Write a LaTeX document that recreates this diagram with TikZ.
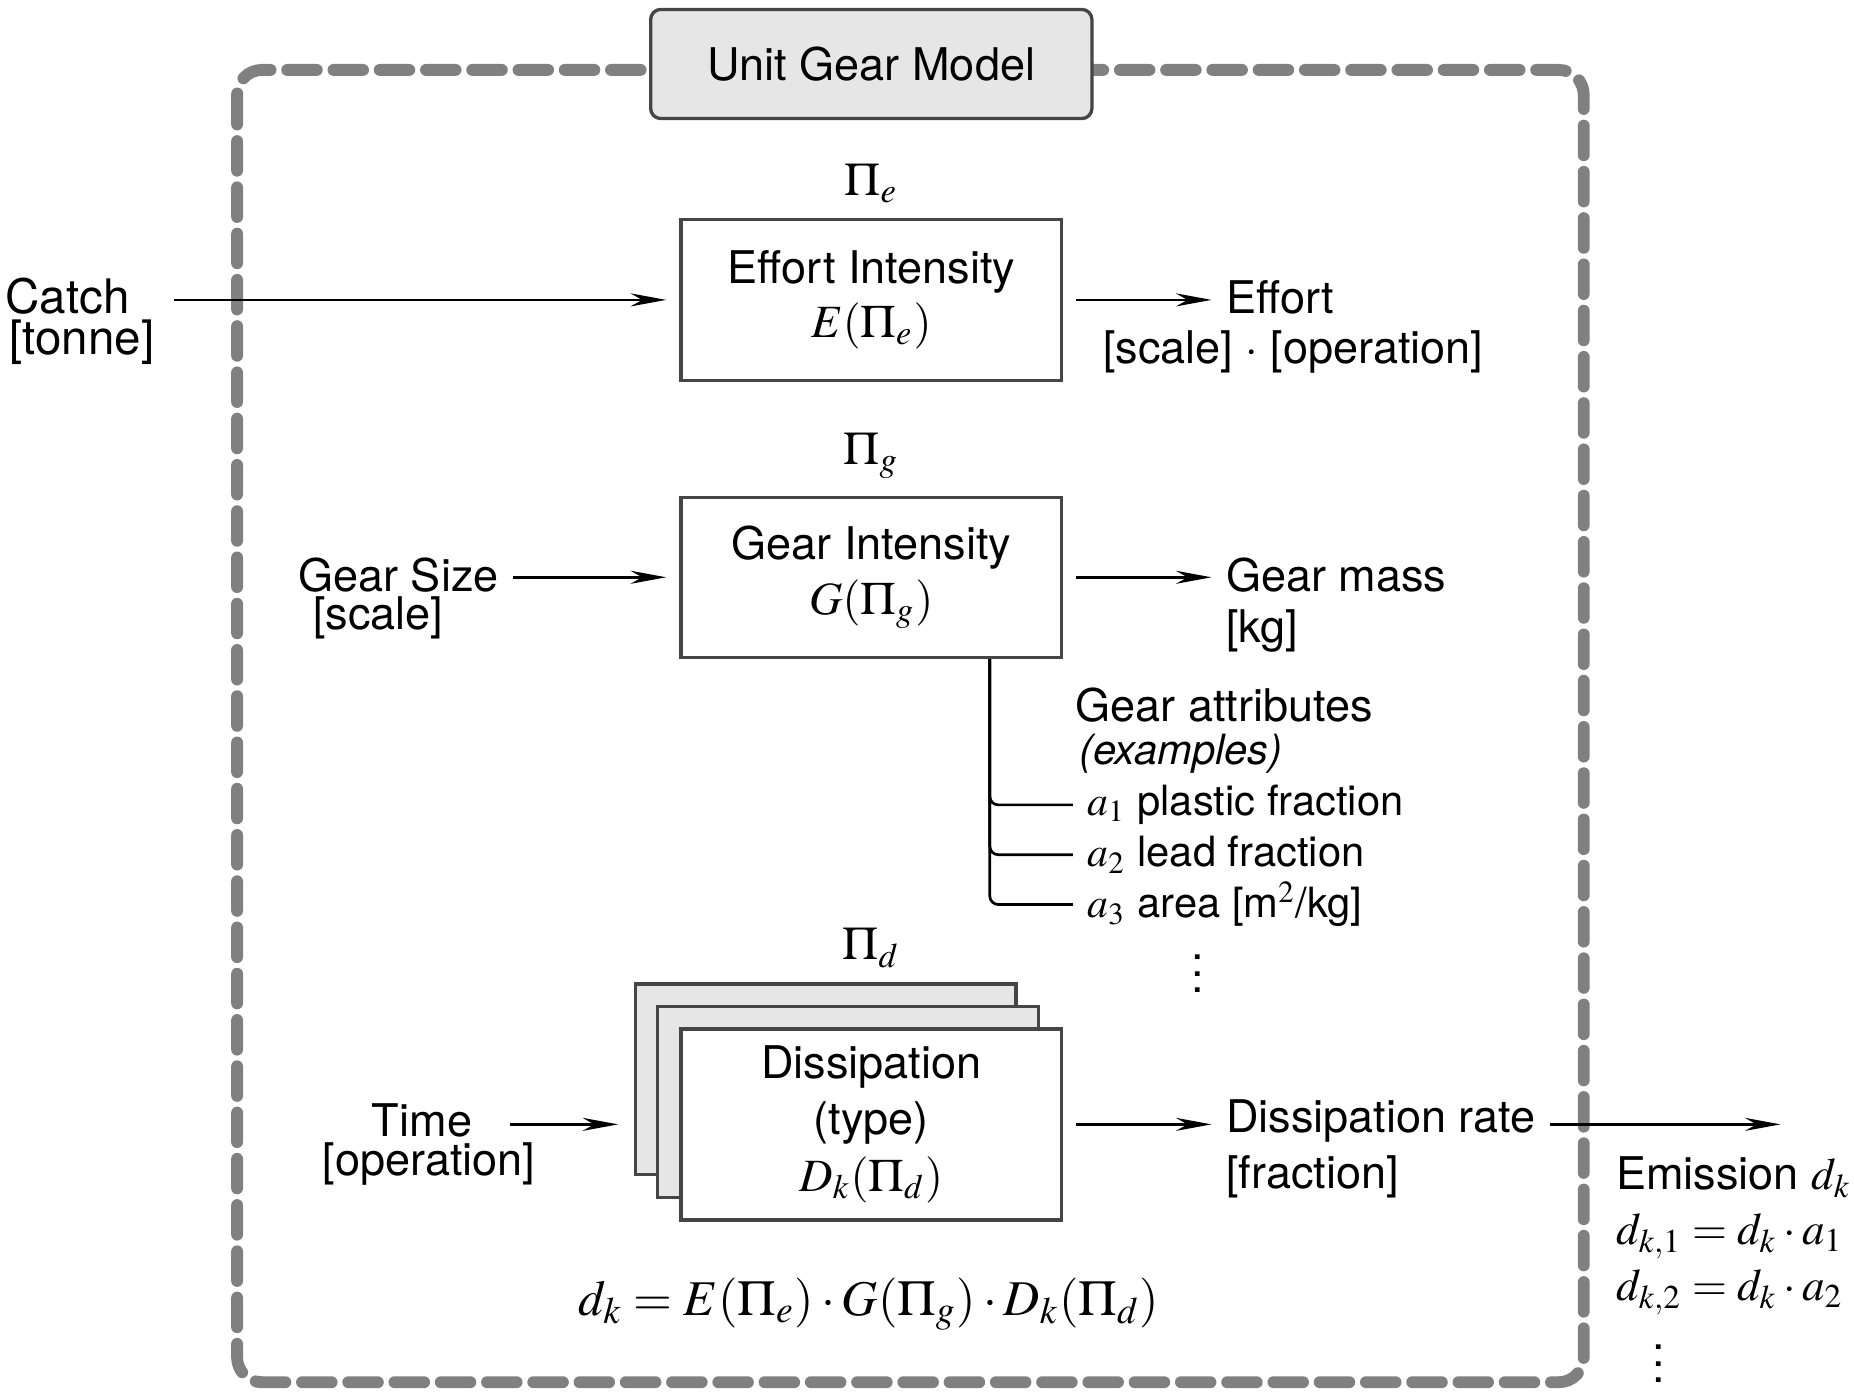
\documentclass[tikz,border=0pt]{standalone}
\usepackage{mathptmx}
\usepackage[no-math]{fontspec}
\setmainfont{TeX Gyre Heros}
\usetikzlibrary{arrows.meta,calc}
\definecolor{bordergray}{HTML}{808080}
\definecolor{boxgray}{HTML}{454545}
\definecolor{lightfill}{HTML}{E6E6E6}
\newcommand{\mymath}[1]{{\fontsize{11.1}{13.1}\selectfont$#1$}}
\newcommand{\pimath}[1]{{\fontsize{11.2}{13.1}\selectfont$#1$}}
\begin{document}
\begin{tikzpicture}[x=0.01cm,y=-0.01cm,
  font=\fontsize{10.8}{13.1}\selectfont,
  ibox/.style={draw=boxgray, line width=0.8pt, minimum width=3.21cm, align=center, inner sep=0pt, fill=white},
  titlebox/.style={draw=boxgray, fill=lightfill, line width=0.8pt, rounded corners=0.085cm, minimum width=3.72cm, minimum height=0.92cm},
  arr/.style={-{Stealth[length=0.3cm,width=0.11cm]}, line width=0.65pt},
  branch/.style={line width=0.65pt, rounded corners=0.07cm},
  lblw/.style={anchor=west},
  small/.style={font=\fontsize{10}{12}\selectfont},
  catchf/.style={font=\fontsize{11.4}{13.5}\selectfont},
  dots/.style={inner sep=0pt, outer sep=0pt}
]
\useasboundingbox (0,0) rectangle (1564,1174);

% outer dashed frame
\draw[bordergray, line width=0.1cm, dash pattern=on 0.25cm off 0.14cm, line cap=round, rounded corners=0.21cm] (200,59) rectangle (1336,1166);

% title
\node[titlebox] (title) at (735,54) {Unit Gear Model};

% Effort intensity
\node (pie) at (735,155) {\pimath{\Pi_e}};
\node[ibox, minimum height=1.36cm] (eff) at (735,253) {Effort Intensity\\ \mymath{E(\Pi_e)}};
\node[catchf] (catch) at (57,250) {Catch};
\node[catchf] (catchu) at (69,289) {[tonne]};
\coordinate (cstart) at (147,253);
\draw[arr, shorten >=0.11cm] (cstart) -- (cstart -| eff.west);
\node[lblw] (effl) at (1022,251) {Effort};
\node (effu) at (1091,297) {[scale] $\cdot$ [operation]};
\draw[arr, shorten <=0.11cm] (eff.east) -- (eff.east -| effl.west);

% Gear intensity
\node (pig) at (735,385) {\pimath{\Pi_g}};
\node[ibox, minimum height=1.35cm] (gear) at (735,487) {Gear Intensity\\ \mymath{G(\Pi_g)}};
\node[anchor=east] (gsl) at (433,485) {Gear Size};
\node (gsu) at (319,521) {[scale]};
\draw[arr, shorten >=0.11cm] (gsl.east |- gear.west) -- (gear.west);
\node[lblw] (gml) at (1022,485) {Gear mass};
\node[lblw] (gmu) at (1022,532) {[kg]};
\draw[arr, shorten <=0.11cm] (gear.east) -- (gear.east -| gml.west);

% gear attributes
\node[lblw] (ga) at (895,595) {Gear attributes};
\node[lblw, small] (gex) at (898,636) {\itshape (examples)};
\node[lblw, small] (a1) at (905,679) {$a_1$ plastic fraction};
\node[lblw, small] (a2) at (905,721) {$a_2$ lead fraction};
\node[lblw, small] (a3) at (905,763) {$a_3$ area [m$^2$/kg]};
\node[dots] (adots) at (1010,811) {$\vdots$};
\path (gear.south) ++(100,0) coordinate (gb);
\draw[branch] (gb) |- (a1.west);
\draw[branch] (gb) |- (a2.west);
\draw[branch] (gb) |- (a3.west);

% Dissipation
\node (pid) at (735,800) {\pimath{\Pi_d}};
\node[ibox, fill=lightfill, minimum height=1.61cm] (dback) at (696.5,910.5) {};
\node[ibox, fill=lightfill, minimum height=1.61cm] (dmid) at (715.5,929.5) {};
\node[ibox, minimum height=1.61cm, font=\fontsize{10.8}{13.5}\selectfont] (dfront) at (735,948.5) {Dissipation\\(type)\\ {\fontsize{11.1}{13.5}\selectfont$D_k(\Pi_d)$}};
\node (tl) at (356,945) {Time};
\node (tu) at (362,982) {[operation]};
\draw[arr, shorten <=0.2cm, shorten >=0.13cm] (tl.east |- dfront.west) -- (dback.west |- dfront.west);
\node[lblw] (dr) at (1022,946) {Dissipation rate};
\node[lblw] (dru) at (1022,993) {[fraction]};
\draw[arr, shorten <=0.11cm] (dfront.east) -- (dfront.east -| dr.west);
\coordinate (emend) at (1502,948.5);
\draw[arr] (dr.east |- emend) -- (emend);

% emission
\node[lblw] (em) at (1351,993) {Emission $d_k$};
\node[lblw] (em1) at (1351,1043) {$d_{k,1} = d_k \cdot a_1$};
\node[lblw] (em2) at (1351,1090) {$d_{k,2} = d_k \cdot a_2$};
\node[dots] (emdots) at (1399,1140) {$\vdots$};

% formula
\node (form) at (733,1100) {{\fontsize{12}{14}\selectfont$d_k = E(\Pi_e)\cdot G(\Pi_g)\cdot D_k(\Pi_d)$}};
\end{tikzpicture}
\end{document}
